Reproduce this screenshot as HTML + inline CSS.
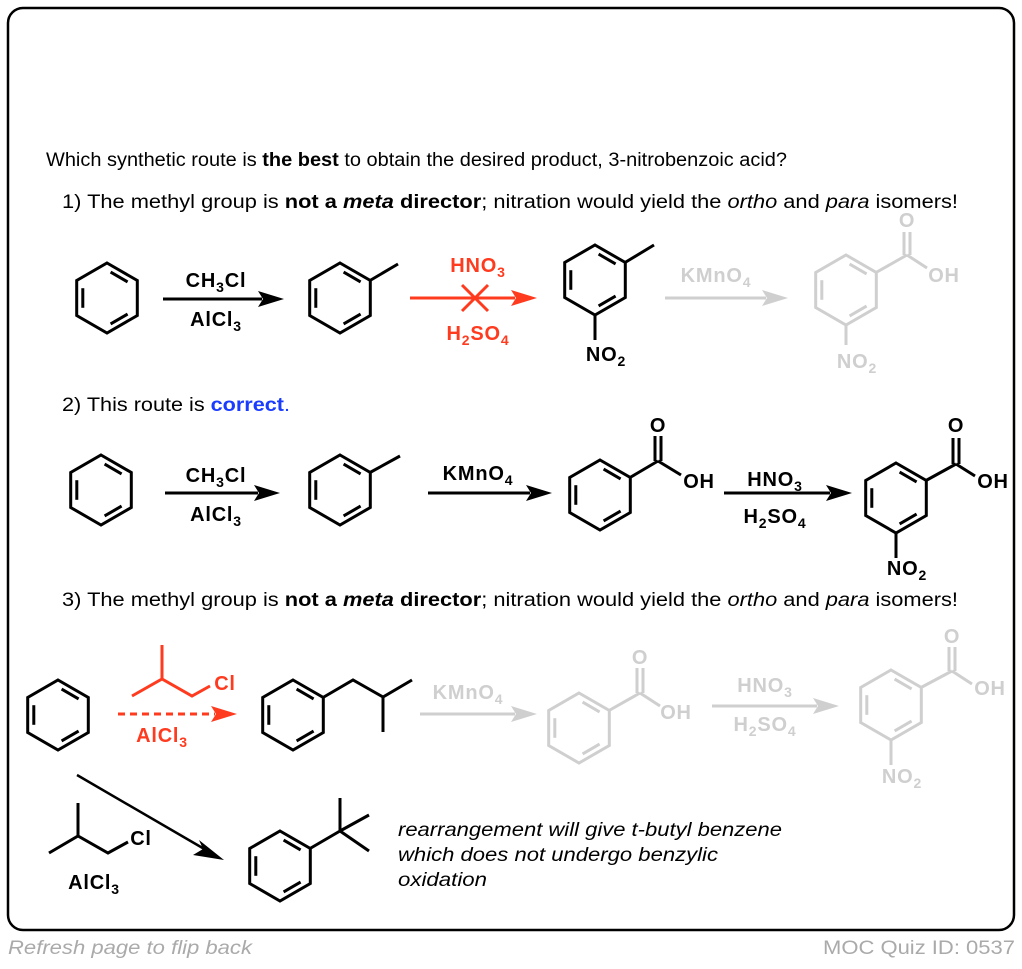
<!DOCTYPE html>
<html><head><meta charset="utf-8"><style>
body{margin:0;background:#fff;width:1022px;height:964px;overflow:hidden}
svg text{font-family:"Liberation Sans",Arial,sans-serif}
.l{font-weight:bold;font-size:20px;text-anchor:middle;letter-spacing:0.8px}
.l tspan.s{font-size:14px}
.t{font-size:19px}
</style></head><body>
<svg width="1022" height="964" viewBox="0 0 1022 964" xmlns="http://www.w3.org/2000/svg">
<defs>
<g id="ring" fill="none" stroke="currentColor" stroke-width="3" stroke-linejoin="miter">
<polygon points="0,-35 30.3,-17.5 30.3,17.5 0,35 -30.3,17.5 -30.3,-17.5"/>
<line x1="3.6" y1="-25.9" x2="20.6" y2="-16.1"/>
<line x1="20.6" y1="16.1" x2="3.6" y2="25.9"/>
<line x1="-24.2" y1="9.8" x2="-24.2" y2="-9.8"/>
</g>
</defs>
<rect x="8" y="8" width="1006" height="922" rx="15" fill="none" stroke="#000" stroke-width="2.5"/>

<text class="t" x="46" y="166" textLength="741" lengthAdjust="spacingAndGlyphs">Which synthetic route is <tspan font-weight="bold">the best</tspan> to obtain the desired product, 3-nitrobenzoic acid?</text>
<text class="t" x="62" y="208" textLength="896" lengthAdjust="spacingAndGlyphs">1) The methyl group is <tspan font-weight="bold">not a <tspan font-style="italic">meta</tspan> director</tspan>; nitration would yield the <tspan font-style="italic">ortho</tspan> and <tspan font-style="italic">para</tspan> isomers!</text>
<text class="t" x="62" y="411" textLength="228" lengthAdjust="spacingAndGlyphs">2) This route is <tspan font-weight="bold" fill="#1a3cff">correct</tspan><tspan fill="#1a3cff">.</tspan></text>
<text class="t" x="62" y="606" textLength="896" lengthAdjust="spacingAndGlyphs">3) The methyl group is <tspan font-weight="bold">not a <tspan font-style="italic">meta</tspan> director</tspan>; nitration would yield the <tspan font-style="italic">ortho</tspan> and <tspan font-style="italic">para</tspan> isomers!</text>

<!-- Row 1 -->
<g color="#000" stroke="#000" stroke-width="3" fill="none">
<use href="#ring" x="107" y="298"/>
<line x1="163" y1="299" x2="262" y2="299"/>
<use href="#ring" x="340" y="298"/>
<line x1="370" y1="280.5" x2="398" y2="264"/>
<use href="#ring" x="595" y="280"/>
<line x1="625" y1="262.5" x2="654" y2="245"/>
<line x1="595" y1="315" x2="595" y2="340"/>
</g>
<polygon points="284,299 258,291 263,299 258,307" fill="#000"/>
<text class="l" x="216" y="287">CH<tspan class="s" dy="5">3</tspan><tspan dy="-5">Cl</tspan></text>
<text class="l" x="216" y="326">AlCl<tspan class="s" dy="5">3</tspan></text>
<text class="l" x="606" y="361">NO<tspan class="s" dy="5">2</tspan></text>
<g stroke="#ff3b1f" stroke-width="3">
<line x1="410" y1="298" x2="515" y2="298"/>
<line x1="462" y1="285" x2="488" y2="311"/>
<line x1="462" y1="311" x2="488" y2="285"/>
</g>
<polygon points="537,298 511,290 516,298 511,306" fill="#ff3b1f"/>
<text class="l" x="478" y="272" fill="#ff3b1f">HNO<tspan class="s" dy="5">3</tspan></text>
<text class="l" x="478" y="340" fill="#ff3b1f">H<tspan class="s" dy="5">2</tspan><tspan dy="-5">SO</tspan><tspan class="s" dy="5">4</tspan></text>
<!-- gray part row1 -->
<g color="#cfcfcf" stroke="#cfcfcf" stroke-width="3" fill="none">
<line x1="665" y1="298" x2="766" y2="298"/>
<use href="#ring" x="846" y="290"/>
<line x1="876" y1="272.5" x2="907" y2="255"/>
<line x1="904" y1="255" x2="904" y2="232"/>
<line x1="910" y1="255" x2="910" y2="232"/>
<line x1="907" y1="255" x2="927" y2="268"/>
<line x1="846" y1="325" x2="846" y2="345"/>
</g>
<polygon points="788,298 762,290 767,298 762,306" fill="#cfcfcf"/>
<g fill="#cfcfcf">
<text class="l" x="716" y="282">KMnO<tspan class="s" dy="5">4</tspan></text>
<text class="l" x="907" y="227">O</text>
<text class="l" x="944" y="282">OH</text>
<text class="l" x="857" y="368">NO<tspan class="s" dy="5">2</tspan></text>
</g>

<!-- Row 2 -->
<g color="#000" stroke="#000" stroke-width="3" fill="none">
<use href="#ring" x="101" y="490"/>
<line x1="165" y1="493" x2="258" y2="493"/>
<use href="#ring" x="340" y="490"/>
<line x1="370" y1="472.5" x2="400" y2="456"/>
<line x1="428" y1="493" x2="530" y2="493"/>
<use href="#ring" x="600" y="495"/>
<line x1="630" y1="477.5" x2="658" y2="461"/>
<line x1="655" y1="461" x2="655" y2="436"/>
<line x1="661" y1="461" x2="661" y2="436"/>
<line x1="658" y1="461" x2="681" y2="475"/>
<line x1="724" y1="493" x2="830" y2="493"/>
<use href="#ring" x="896" y="498"/>
<line x1="926" y1="480.5" x2="956" y2="464"/>
<line x1="953" y1="464" x2="953" y2="438"/>
<line x1="959" y1="464" x2="959" y2="438"/>
<line x1="956" y1="464" x2="975" y2="476"/>
<line x1="896" y1="533" x2="896" y2="558"/>
</g>
<polygon points="280,493 254,485 259,493 254,501" fill="#000"/>
<polygon points="552,493 526,485 531,493 526,501" fill="#000"/>
<polygon points="852,493 826,485 831,493 826,501" fill="#000"/>
<text class="l" x="216" y="482">CH<tspan class="s" dy="5">3</tspan><tspan dy="-5">Cl</tspan></text>
<text class="l" x="216" y="521">AlCl<tspan class="s" dy="5">3</tspan></text>
<text class="l" x="478" y="480">KMnO<tspan class="s" dy="5">4</tspan></text>
<text class="l" x="658" y="432">O</text>
<text class="l" x="699" y="488">OH</text>
<text class="l" x="775" y="486">HNO<tspan class="s" dy="5">3</tspan></text>
<text class="l" x="775" y="523">H<tspan class="s" dy="5">2</tspan><tspan dy="-5">SO</tspan><tspan class="s" dy="5">4</tspan></text>
<text class="l" x="956" y="432">O</text>
<text class="l" x="993" y="488">OH</text>
<text class="l" x="907" y="575">NO<tspan class="s" dy="5">2</tspan></text>

<!-- Row 3 -->
<g color="#000" stroke="#000" stroke-width="3" fill="none">
<use href="#ring" x="58" y="715"/>
<use href="#ring" x="293" y="715"/>
<polyline points="323,697.5 353,680 383,697 412,680"/>
<line x1="383" y1="697" x2="383" y2="732"/>
</g>
<g stroke="#ff3b1f" stroke-width="3" fill="none">
<polyline points="132,696 162,679 192,696 210,686"/>
<line x1="162" y1="679" x2="162" y2="645"/>
<line x1="118" y1="714" x2="215" y2="714" stroke-dasharray="7,5"/>
</g>
<polygon points="237,714 211,706 216,714 211,722" fill="#ff3b1f"/>
<text class="l" x="225" y="690" fill="#ff3b1f">Cl</text>
<text class="l" x="162" y="742" fill="#ff3b1f">AlCl<tspan class="s" dy="5">3</tspan></text>

<g color="#cfcfcf" stroke="#cfcfcf" stroke-width="3" fill="none">
<line x1="420" y1="714" x2="515" y2="714"/>
<use href="#ring" x="579" y="728"/>
<line x1="609" y1="710.5" x2="640" y2="693"/>
<line x1="637" y1="693" x2="637" y2="668"/>
<line x1="643" y1="693" x2="643" y2="668"/>
<line x1="640" y1="693" x2="660" y2="706"/>
<line x1="712" y1="706" x2="817" y2="706"/>
<use href="#ring" x="891" y="705"/>
<line x1="921" y1="687.5" x2="952" y2="671"/>
<line x1="949" y1="671" x2="949" y2="647"/>
<line x1="955" y1="671" x2="955" y2="647"/>
<line x1="952" y1="671" x2="972" y2="684"/>
<line x1="891" y1="740" x2="891" y2="765"/>
</g>
<polygon points="537,714 511,706 516,714 511,722" fill="#cfcfcf"/>
<polygon points="839,706 813,698 818,706 813,714" fill="#cfcfcf"/>
<g fill="#cfcfcf">
<text class="l" x="468" y="699">KMnO<tspan class="s" dy="5">4</tspan></text>
<text class="l" x="640" y="664">O</text>
<text class="l" x="676" y="719">OH</text>
<text class="l" x="765" y="692">HNO<tspan class="s" dy="5">3</tspan></text>
<text class="l" x="765" y="731">H<tspan class="s" dy="5">2</tspan><tspan dy="-5">SO</tspan><tspan class="s" dy="5">4</tspan></text>
<text class="l" x="952" y="643">O</text>
<text class="l" x="990" y="695">OH</text>
<text class="l" x="902" y="783">NO<tspan class="s" dy="5">2</tspan></text>
</g>

<!-- bottom -->
<g color="#000" stroke="#000" stroke-width="2.5" fill="none">
<line x1="77" y1="775" x2="206" y2="850"/>
<polyline points="49,853 78,836 108,853 128,842" stroke-width="3"/>
<line x1="78" y1="836" x2="78" y2="803" stroke-width="3"/>
<use href="#ring" x="280" y="866"/>
<line x1="310" y1="848.5" x2="340" y2="831" stroke-width="3"/>
<line x1="340" y1="831" x2="340" y2="798" stroke-width="3"/>
<line x1="340" y1="831" x2="369" y2="815" stroke-width="3"/>
<line x1="340" y1="831" x2="369" y2="851" stroke-width="3"/>
</g>
<polygon points="224,860 199,840 203,849 193,855" fill="#000"/>
<text class="l" x="141" y="845">Cl</text>
<text class="l" x="94" y="889">AlCl<tspan class="s" dy="5">3</tspan></text>
<g font-style="italic" class="t">
<text x="398" y="836" textLength="384" lengthAdjust="spacingAndGlyphs">rearrangement will give t-butyl benzene</text>
<text x="398" y="861" textLength="320" lengthAdjust="spacingAndGlyphs">which does not undergo benzylic</text>
<text x="398" y="886" textLength="89" lengthAdjust="spacingAndGlyphs">oxidation</text>
</g>

<text x="8" y="954" font-size="19" font-style="italic" fill="#aaa" textLength="244" lengthAdjust="spacingAndGlyphs">Refresh page to flip back</text>
<text x="823" y="954" font-size="19" fill="#aaa" textLength="192" lengthAdjust="spacingAndGlyphs">MOC Quiz ID: 0537</text>
</svg>
</body></html>
